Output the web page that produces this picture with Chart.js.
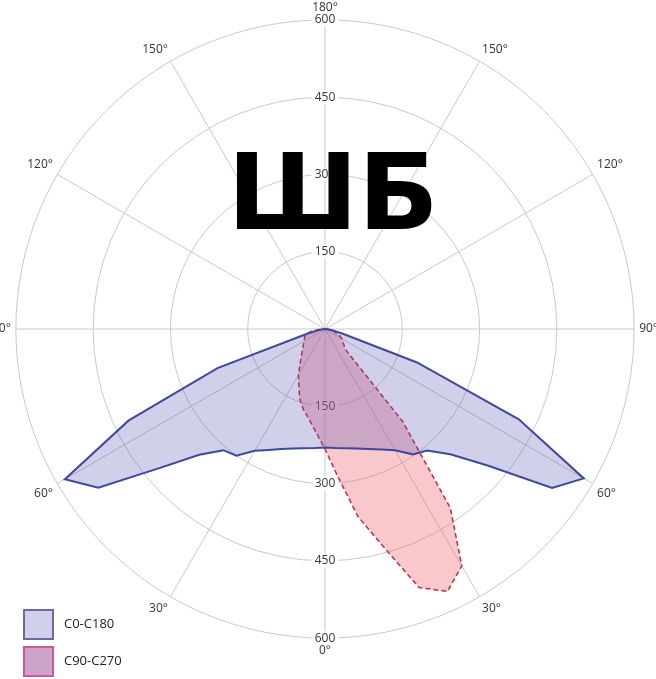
<!DOCTYPE html>
<html>
<head>
<meta charset="utf-8">
<script src="https://cdn.jsdelivr.net/npm/chart.js@4.4.1/dist/chart.umd.min.js"></script>
<style>
  html, body { margin: 0; padding: 0; background: #fff; overflow: hidden; }
  #wrap { position: relative; width: 656px; height: 679px; overflow: hidden; }
  #chart { position: absolute; left: -8px; top: -4px; }
  .legend-item { position: absolute; left: 23px; font: 13px "Open Sans", sans-serif; color: #222; }
  .legend-item .box { position: absolute; left: 0; top: 0; width: 27px; height: 27px; border: 2px solid; }
  .legend-item .txt { position: absolute; left: 41px; top: 5px; white-space: nowrap; }
</style>
</head>
<body>
<div id="wrap">
  <canvas id="chart" width="666" height="683"></canvas>
  <div class="legend-item" style="top:609px">
    <div class="box" style="background:#d0d0eb;border-color:#6a6aa0"></div>
    <div class="txt">C0-C180</div>
  </div>
  <div class="legend-item" style="top:646px">
    <div class="box" style="background:#cba3cb;border-color:#d4559a"></div>
    <div class="txt">C90-C270</div>
  </div>
</div>
<script>
// gamma angles 0..180 in 5 degree steps (0 = straight down)
const gammaAngles = [0, 5, 10, 15, 20, 25, 30, 35, 40, 45, 50, 55, 60, 65, 70, 75, 80, 85, 90,
  95, 100, 105, 110, 115, 120, 125, 130, 135, 140, 145, 150, 155, 160, 165, 170, 175, 180];

// intensity values (cd/klm), per gamma angle
const c0c180Left = [230, 232, 235, 240, 248, 259, 273, 300, 307, 345, 420, 537, 583, 421, 222, 36, 14, 5, 0,
  0, 0, 0, 0, 0, 0, 0, 0, 0, 0, 0, 0, 0, 0, 0, 0, 0, 0];
const c0c180Right = [230, 232, 235, 240, 248, 258, 272, 297, 308, 344, 412, 538, 580, 415, 190, 36, 14, 5, 0,
  0, 0, 0, 0, 0, 0, 0, 0, 0, 0, 0, 0, 0, 0, 0, 0, 0, 0];
const c90c270Left = [233, 201, 178, 162, 144, 120, 103, 85, 72, 63, 56, 51, 47, 44, 42, 35, 28, 12, 0,
  0, 0, 0, 0, 0, 0, 0, 0, 0, 0, 0, 0, 0, 0, 0, 0, 0, 0];
const c90c270Right = [233, 288, 370, 437, 534, 562, 531, 424, 235, 55, 48, 42, 38, 32, 23, 19, 12, 6, 0,
  0, 0, 0, 0, 0, 0, 0, 0, 0, 0, 0, 0, 0, 0, 0, 0, 0, 0];

const radialTicks = [0, 150, 300, 450, 600];
const overlayText = 'ШБ';

// radar runs clockwise from the top: right half 180 -> 0, then left half 5 -> 175
const last = gammaAngles.length - 1;
const labels = [];
for (let i = last; i >= 0; i--) labels.push(gammaAngles[i]);
for (let i = 1; i < last; i++) labels.push(gammaAngles[i]);

function around(left, right) {
  const out = [];
  for (let i = last; i >= 0; i--) out.push(right[i]);
  for (let i = 1; i < last; i++) out.push(left[i]);
  return out;
}

Chart.defaults.font.family = '"Open Sans", sans-serif';

// tick labels on the lower half of the vertical axis
const lowerTicks = {
  id: 'lowerTicks',
  beforeDatasetsDraw(chart) {
    const scale = chart.scales.r;
    const ctx = chart.ctx;
    ctx.save();
    ctx.font = '12px "Open Sans", sans-serif';
    ctx.textAlign = 'center';
    ctx.textBaseline = 'middle';
    radialTicks.forEach(v => {
      if (v === 0) return;
      const y = scale.yCenter + scale.getDistanceFromCenterForValue(v);
      const w = ctx.measureText(String(v)).width;
      ctx.fillStyle = '#fff';
      ctx.fillRect(scale.xCenter - w / 2 - 3, y - 7, w + 6, 14);
      ctx.fillStyle = '#333';
      ctx.fillText(String(v), scale.xCenter, y);
    });
    ctx.restore();
  }
};

const bigLetters = {
  id: 'bigLetters',
  afterDraw(chart) {
    const scale = chart.scales.r;
    const ctx = chart.ctx;
    ctx.save();
    ctx.font = 'bold 106px "DejaVu Sans", sans-serif';
    ctx.fillStyle = '#000';
    ctx.textAlign = 'center';
    ctx.textBaseline = 'alphabetic';
    ctx.fillText(overlayText, scale.xCenter + 8, scale.yCenter - 100);
    ctx.restore();
  }
};

new Chart(document.getElementById('chart'), {
  type: 'radar',
  data: {
    labels: labels,
    datasets: [
      {
        label: 'C0-C180',
        data: around(c0c180Left, c0c180Right),
        backgroundColor: 'rgba(80, 80, 180, 0.27)',
        borderColor: '#3b4a9c',
        borderWidth: 2,
        pointRadius: 0,
        fill: true
      },
      {
        label: 'C90-C270',
        data: around(c90c270Left, c90c270Right),
        backgroundColor: 'rgba(238, 98, 109, 0.35)',
        borderColor: '#c52a40',
        borderWidth: 1.5,
        borderDash: [5, 3],
        pointRadius: 0,
        fill: true
      }
    ]
  },
  options: {
    responsive: false,
    animation: false,
    layout: { padding: { bottom: 17 } },
    plugins: { legend: { display: false }, tooltip: { enabled: false } },
    scales: {
      r: {
        min: 0,
        max: 600,
        startAngle: 0,
        grid: { circular: true, color: '#c8c8c8', lineWidth: 1 },
        angleLines: {
          color: '#c8c8c8',
          lineWidth: (ctx) => (labels[ctx.index] % 30 === 0 ? 1 : 0)
        },
        ticks: {
          stepSize: 150,
          color: '#333',
          font: { size: 12 },
          backdropColor: '#fff',
          backdropPadding: { x: 3, y: 1 }
        },
        pointLabels: {
          color: '#333',
          font: { size: 12 },
          padding: -2,
          callback: (label) => (Number(label) % 30 === 0 ? label + '°' : '')
        }
      }
    }
  },
  plugins: [lowerTicks, bigLetters]
});
</script>
</body>
</html>
